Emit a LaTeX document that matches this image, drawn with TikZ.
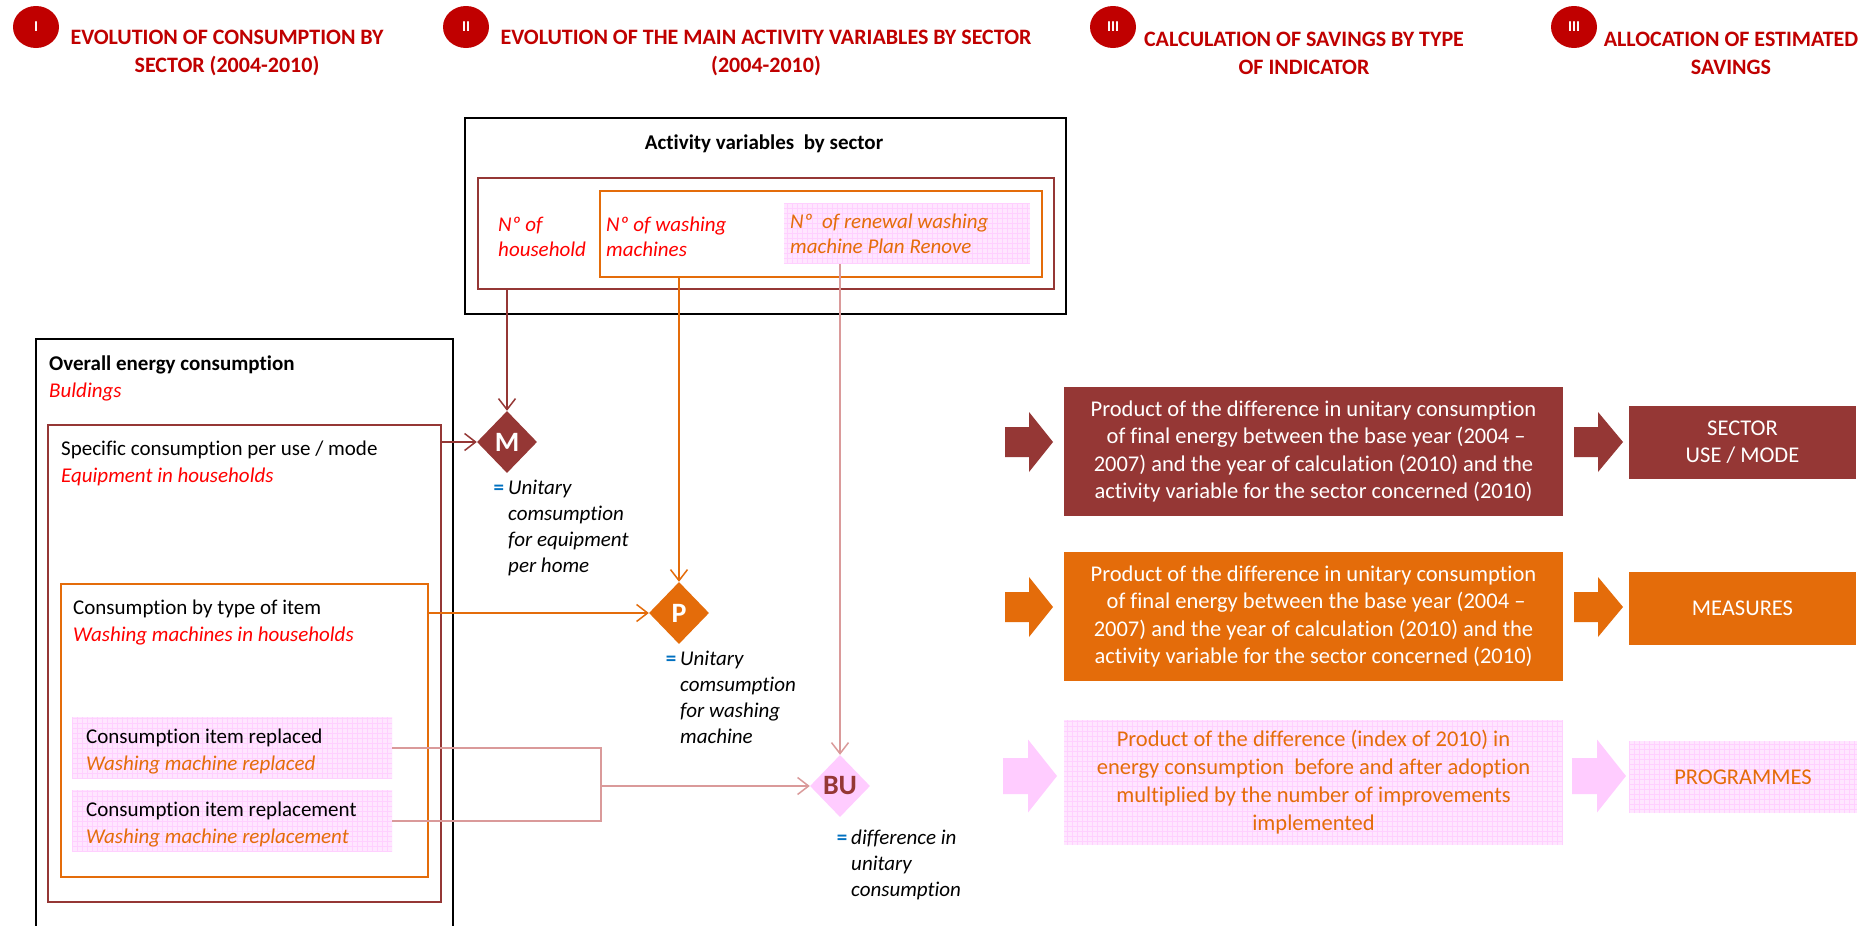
\documentclass[tikz,border=0pt]{standalone}
\usepackage{fontspec}
\setmainfont{Carlito}[Ligatures={NoCommon}]
\usetikzlibrary{shapes.geometric,arrows.meta}
\definecolor{brick}{HTML}{953735}
\definecolor{orng}{HTML}{E46C0A}
\definecolor{hdr}{HTML}{C00000}
\definecolor{pinkfill}{HTML}{FFE6FF}
\definecolor{pinkgrid}{HTML}{FFD0FF}
\definecolor{pinksolid}{HTML}{FFCCFF}
\definecolor{pinkline}{HTML}{DA9A9A}
\definecolor{txtred}{HTML}{FF0000}
\definecolor{eqblue}{HTML}{0070C0}
\newcommand{\bodyf}{\fontsize{21}{27}\selectfont}
\newcommand{\actf}{\fontsize{21}{25.5}\selectfont\itshape}
\newcommand{\lblf}{\fontsize{21}{26}\selectfont\itshape}
\newcommand{\hdrf}{\fontsize{22}{28}\selectfont\bfseries}
\newcommand{\boxf}{\fontsize{22.5}{27.6}\selectfont}
\newcommand{\eqm}{\llap{\upshape\bfseries\textcolor{eqblue}{=}\hspace{4pt}}}
\begin{document}
\begin{tikzpicture}[x=1pt,y=-1pt,
  numcirc/.style={ellipse,fill=hdr,minimum width=46pt,minimum height=42pt,inner sep=0pt,text=white,font=\fontsize{15}{15}\selectfont\bfseries},
  hdrtext/.style={text=hdr,font=\hdrf,align=center,inner sep=0pt},
  frame/.style={draw,rectangle,inner sep=0pt},
  pinkbox/.style={rectangle,inner sep=0pt,fill=pinkfill,
     path picture={\draw[pinkgrid,line width=0.35pt,step=5pt] (path picture bounding box.south west) grid (path picture bounding box.north east);}},
  ml/.style={anchor=north west,inner sep=0pt,align=left},
  dia/.style={diamond,aspect=1,minimum width=60pt,minimum height=62pt,inner sep=0pt,font=\fontsize{28}{28}\selectfont\bfseries},
  conn/.style={line width=1.5pt,-{Straight Barb[length=11pt,width=17pt]}},
  plainconn/.style={line width=1.5pt},
  bigbox/.style={rectangle,inner sep=0pt,minimum width=499pt,align=center,font=\boxf},
  smallbox/.style={rectangle,inner sep=0pt,minimum width=227pt,minimum height=73pt,align=center,font=\fontsize{22.5}{27}\selectfont}
]
\useasboundingbox[fill=white] (0,0) rectangle (1863,926);

% ---------- headers ----------
\node[numcirc] (c1) at (36,27) {I};
\node[numcirc] (c2) at (466,27) {II};
\node[numcirc] (c3) at (1113,27) {III};
\node[numcirc] (c4) at (1574,27) {III};
\node[hdrtext] (h1) at (227,53) {EVOLUTION OF CONSUMPTION BY\\SECTOR (2004-2010)};
\node[hdrtext] (h2) at (766,53) {EVOLUTION OF THE MAIN ACTIVITY VARIABLES BY SECTOR\\(2004-2010)};
\node[hdrtext] (h3) at (1304,53) {CALCULATION OF SAVINGS BY TYPE\\OF INDICATOR};
\node[hdrtext] (h4) at (1731,53) {ALLOCATION OF ESTIMATED\\SAVINGS};

% ---------- activity variables ----------
\node[frame,draw=black,line width=2pt,minimum width=601pt,minimum height=196pt] (act) at (765.5,216) {};
\node[anchor=base,inner sep=0pt,font=\bodyf\bfseries] (actt) at (764,149) {Activity variables\ \ by sector};
\node[frame,draw=brick,line width=2pt,minimum width=576pt,minimum height=111pt] (actred) at (766,233.5) {};
\node[frame,draw=orng,line width=2pt,minimum width=442pt,minimum height=86pt] (actor) at (821,234) {};
\node[pinkbox,minimum width=246pt,minimum height=61pt] (actpk) at (907,233.5) {};
\node[ml,font=\actf,text=txtred] (thh) at (498,213.2) {\strut Nº of\\household};
\node[ml,font=\actf,text=txtred] (twm) at (606,213.2) {\strut Nº of washing\\machines};
\node[ml,font=\actf,text=orng] (trn) at (790,210.2) {\strut Nº\ \ of renewal washing\\machine Plan Renove};

% ---------- overall energy consumption ----------
\draw[line width=1.6pt] (36,928) -- (36,339) -- (453,339) -- (453,928);
\node[ml,font=\bodyf] (tov) at (49,351.1) {\strut\textbf{Overall energy consumption}\\{\color{txtred}\itshape Buldings}};
\node[frame,draw=brick,line width=2pt,minimum width=393pt,minimum height=477pt] (spec) at (244.5,663.5) {};
\node[ml,font=\bodyf] (tspec) at (61,436.1) {\strut Specific consumption per use / mode\\{\color{txtred}\itshape Equipment in households}};
\node[frame,draw=orng,line width=2pt,minimum width=367pt,minimum height=293pt] (typ) at (244.5,730.5) {};
\node[ml,font=\bodyf] (ttyp) at (73,595.1) {\strut Consumption by type\ of item\\{\color{txtred}\itshape Washing machines in households}};
\node[pinkbox,minimum width=320pt,minimum height=62pt] (rep1) at (232,748) {};
\node[pinkbox,minimum width=320pt,minimum height=62pt] (rep2) at (232,821) {};
\node[ml,font=\bodyf] (trep1) at (86,724.1) {\strut Consumption item replaced\\{\color{orng}\itshape Washing machine replaced}};
\node[ml,font=\bodyf] (trep2) at (86,797.1) {\strut Consumption item replacement\\{\color{orng}\itshape Washing machine replacement}};

% ---------- diamonds ----------
\node[dia,fill=brick,text=white] (M) at (507,442) {M};
\node[dia,fill=orng,text=white] (P) at (679,613) {P};
\node[dia,fill=pinksolid,text=brick] (BU) at (840,786) {BU};
\node[ml,font=\lblf] (Ml) at (508,475.8) {\strut\eqm Unitary\\comsumption\\for equipment\\per home};
\node[ml,font=\lblf] (Pl) at (680,646.8) {\strut\eqm Unitary\\comsumption\\for washing\\machine};
\node[ml,font=\lblf] (BUl) at (851,825.8) {\strut\eqm difference in\\unitary\\consumption};

% ---------- connectors ----------
\draw[conn,brick] (M |- actred.south) -- (M.north);
\draw[conn,brick] (spec.east |- M) -- (M.west);
\draw[conn,orng] (P |- actor.south) -- (P.north);
\draw[conn,orng] (typ.east |- P) -- (P.west);
\draw[conn,pinkline] (BU |- actpk.south) -- (BU.north);
\coordinate (brk) at (601,786);
\draw[plainconn,pinkline] (rep1.east) -| (brk) |- (rep2.east);
\draw[conn,pinkline] (brk) -- (BU.west);

% ---------- block arrows ----------
\fill[brick,shift={(1005,442)}] (0,-15) -- (24,-15) -- (24,-30) -- (48,0) -- (24,30) -- (24,15) -- (0,15) -- cycle;
\fill[orng,shift={(1005,607)}] (0,-15) -- (24,-15) -- (24,-30) -- (48,0) -- (24,30) -- (24,15) -- (0,15) -- cycle;
\fill[pinksolid,shift={(1003,776)}] (0,-18) -- (25,-18) -- (25,-36.5) -- (54,0) -- (25,36.5) -- (25,18) -- (0,18) -- cycle;
\fill[brick,shift={(1574,442)}] (0,-15) -- (24,-15) -- (24,-30) -- (49,0) -- (24,30) -- (24,15) -- (0,15) -- cycle;
\fill[orng,shift={(1574,607)}] (0,-15) -- (24,-15) -- (24,-30) -- (49,0) -- (24,30) -- (24,15) -- (0,15) -- cycle;
\fill[pinksolid,shift={(1572,776)}] (0,-18) -- (25,-18) -- (25,-36.5) -- (54,0) -- (25,36.5) -- (25,18) -- (0,18) -- cycle;

% ---------- result boxes ----------
\node[bigbox,fill=brick,text=white,minimum height=129pt] (A1) at (1313.5,451.5) {Product of the difference in unitary consumption\\\ of final energy between the base year (2004 --\\2007) and the year of calculation (2010) and the\\activity variable for the sector concerned (2010)};
\node[bigbox,fill=orng,text=white,minimum height=129pt] (A2) at (1313.5,616.5) {Product of the difference in unitary consumption\\\ of final energy between the base year (2004 --\\2007) and the year of calculation (2010) and the\\activity variable for the sector concerned (2010)};
\node[bigbox,pinkbox,minimum width=499pt,minimum height=125pt,align=center,font=\fontsize{22.5}{28}\selectfont,text=orng] (A3) at (1313.5,782.5) {Product of the difference (index of 2010) in\\energy consumption\ \ before and after adoption\\multiplied by the number of improvements\\implemented};
\node[smallbox,fill=brick,text=white] (B1) at (1742.5,442.5) {SECTOR\\USE / MODE};
\node[smallbox,fill=orng,text=white] (B2) at (1742.5,608.5) {MEASURES};
\node[smallbox,pinkbox,minimum width=228pt,minimum height=72pt,align=center,font=\fontsize{22.5}{27}\selectfont,text=orng] (B3) at (1743,777) {PROGRAMMES};
\end{tikzpicture}
\end{document}
